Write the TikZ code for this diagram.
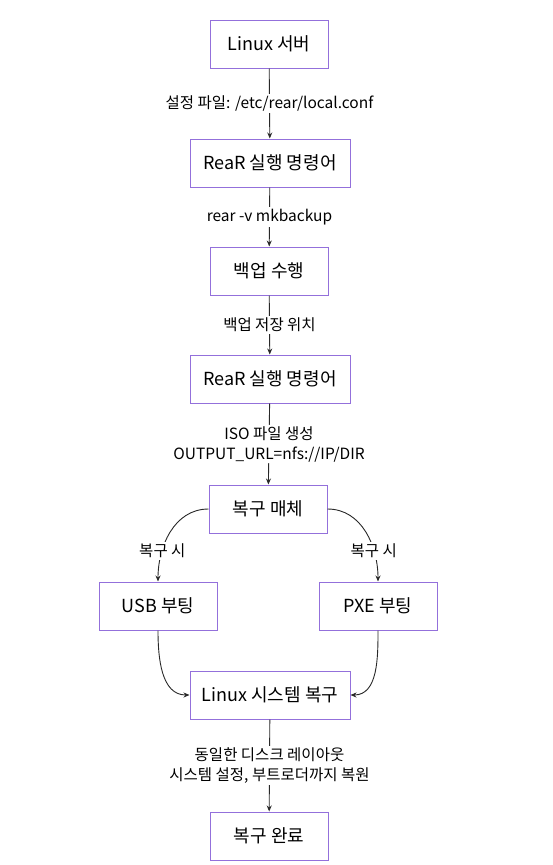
\documentclass[tikz,border=0pt]{standalone}
\usepackage{fontspec}
\setmainfont{Noto Sans CJK KR}
\usetikzlibrary{arrows.meta}
\definecolor{boxline}{RGB}{147,112,219}
\definecolor{edge}{RGB}{40,40,40}
\tikzset{
  box/.style={draw=boxline, line width=1pt, fill=white, minimum height=48pt, font=\fontsize{18}{21}\selectfont, inner sep=0pt},
  wbox/.style={box, minimum width=118pt},
  lbox/.style={box, minimum width=160pt},
  conn/.style={draw=edge, line width=0.9pt, -{Stealth[length=6pt,width=5pt]}},
  lab/.style={fill=white, font=\fontsize{15.5}{19.5}\selectfont, inner sep=2pt, align=center},
}
\begin{document}
\begin{tikzpicture}[x=1pt,y=-1pt]
\useasboundingbox (0,0) rectangle (552,865);
\node[wbox] (n1) at (269,44) {Linux 서버};
\node[lbox] (n2) at (270,163) {ReaR 실행 명령어};
\node[wbox] (n3) at (269,271) {백업 수행};
\node[lbox] (n4) at (270,379) {ReaR 실행 명령어};
\node[wbox] (n5) at (268,509) {복구 매체};
\node[wbox] (usb) at (158,606) {USB 부팅};
\node[wbox] (pxe) at (378,606) {PXE 부팅};
\node[lbox] (n8) at (270,695) {Linux 시스템 복구};
\node[wbox] (n9) at (269,836) {복구 완료};

\draw[conn] (n1) -- node[lab] {설정 파일: /etc/rear/local.conf} (n2);
\draw[conn] (n2) -- node[lab] {rear -v mkbackup} (n3);
\draw[conn] (n3) -- node[lab] {백업 저장 위치} (n4);
\draw[conn] (n4) -- node[lab, text depth=2pt] {ISO 파일 생성\\OUTPUT\_URL=nfs://IP/DIR} (n5);
\draw[conn] (n5.west) to[out=180,in=90] node[lab, pos=0.7] {복구 시} (usb.north);
\draw[conn] (n5.east) to[out=0,in=90] node[lab, pos=0.7] {복구 시} (pxe.north);
\draw[conn] (usb.south) to[out=-90,in=180] (n8.west);
\draw[conn] (pxe.south) to[out=-90,in=0] (n8.east);
\draw[conn] (n8) -- node[lab] {동일한 디스크 레이아웃\\시스템 설정, 부트로더까지 복원} (n9);
\end{tikzpicture}
\end{document}
